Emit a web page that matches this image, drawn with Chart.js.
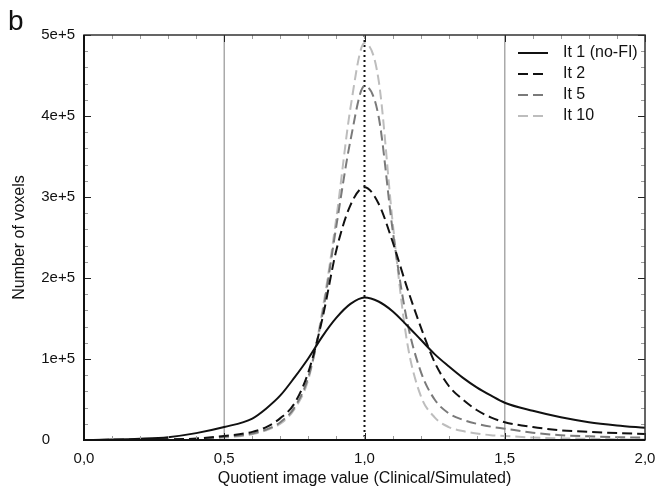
<!DOCTYPE html>
<html>
<head>
<meta charset="utf-8">
<script src="https://cdn.jsdelivr.net/npm/chart.js@4/dist/chart.umd.min.js"></script>
<style>
    body { margin: 0; background: #fff; }
    #wrap { width: 655px; height: 496px; }
</style>
</head>
<body>
<div id="wrap"><canvas id="quotient-chart"></canvas></div>
<script>
// values (x = quotient, y = number of voxels)
var quotients = [0, 0.1, 0.2, 0.3, 0.4, 0.5, 0.6, 0.65, 0.7, 0.75, 0.8, 0.85, 0.9, 0.95, 1.0,
                 1.05, 1.1, 1.15, 1.2, 1.25, 1.3, 1.35, 1.4, 1.45, 1.5, 1.6, 1.7, 1.8, 1.9, 2.0];

var it1 = [0, 500, 1500, 3500, 8500, 16000, 26500, 39000, 55000, 77000, 101000, 128000, 151000, 168000, 176000,
           171000, 159000, 142000, 124000, 106000, 91000, 77000, 65000, 55000, 46000, 36000, 28000, 22000, 18000, 15000];
var it2 = [0, 200, 400, 800, 1800, 5000, 10000, 16000, 27000, 45000, 84000, 150000, 235000, 290000, 312000,
           292000, 245000, 190000, 140000, 96000, 67000, 50000, 37000, 28000, 22000, 16000, 12000, 10000, 8500, 7500];
var it5 = [0, 100, 300, 600, 1300, 4000, 8000, 13000, 22000, 40000, 78000, 155000, 265000, 370000, 437000,
           400000, 260000, 150000, 85000, 50000, 33000, 25000, 20000, 16500, 14000, 9000, 6000, 4500, 3500, 3000];
var it10 = [0, 50, 150, 400, 900, 3000, 7000, 12000, 20000, 38000, 75000, 160000, 275000, 410000, 490000,
            445000, 270000, 125000, 55000, 28000, 16000, 11000, 8000, 6000, 5000, 3000, 2000, 1500, 1000, 500];

var seriesLabels = ['It 1 (no-FI)', 'It 2', 'It 5', 'It 10'];
var xTickStep = 0.5;
var yTickStep = 100000;
var panelLetter = 'b';

// vertical reference lines
var greyLines = [0.5, 1.5];
var dottedLine = 1.0;

var FONT = "'Liberation Sans', Arial, sans-serif";

window.onload = initialize;

function initialize() {
    renderChart();
}

function toPoints(values) {
    var pts = [];
    for (var i = 0; i < quotients.length; i++) {
        pts.push({x: quotients[i], y: values[i]});
    }
    return pts;
}

function makeDataset(label, values, color, dash) {
    return {
        label: label,
        data: toPoints(values),
        borderColor: color,
        borderWidth: 2,
        borderDash: dash,
        pointRadius: 0,
        fill: false,
        cubicInterpolationMode: 'monotone'
    };
}

var frameAndTicks = {
    id: 'frameAndTicks',
    beforeDatasetsDraw: function(chart) {
        var ctx = chart.ctx;
        var a = chart.chartArea;
        var xs = chart.scales.x;
        ctx.save();
        ctx.strokeStyle = '#aaaaaa';
        ctx.lineWidth = 1.5;
        greyLines.forEach(function(v) {
            var px = xs.getPixelForValue(v);
            ctx.beginPath();
            ctx.moveTo(px, a.top);
            ctx.lineTo(px, a.bottom);
            ctx.stroke();
        });
        ctx.strokeStyle = '#111';
        ctx.lineWidth = 2;
        ctx.setLineDash([2, 3]);
        var dx = xs.getPixelForValue(dottedLine);
        ctx.beginPath();
        ctx.moveTo(dx, a.top);
        ctx.lineTo(dx, a.bottom);
        ctx.stroke();
        ctx.restore();
    },
    afterDraw: function(chart) {
        var ctx = chart.ctx;
        var a = chart.chartArea;
        var xs = chart.scales.x;
        var ys = chart.scales.y;
        ctx.save();

        // inward ticks, minor then major
        function xTicks(step, len, color) {
            ctx.strokeStyle = color;
            ctx.lineWidth = 1;
            for (var v = xs.min; v <= xs.max + 1e-9; v += step) {
                var px = Math.round(xs.getPixelForValue(v)) + 0.5;
                ctx.beginPath();
                ctx.moveTo(px, a.bottom); ctx.lineTo(px, a.bottom - len);
                ctx.moveTo(px, a.top); ctx.lineTo(px, a.top + len);
                ctx.stroke();
            }
        }
        function yTicks(step, len, color) {
            ctx.strokeStyle = color;
            ctx.lineWidth = 1;
            for (var v = ys.min; v <= ys.max + 1e-6; v += step) {
                var py = Math.round(ys.getPixelForValue(v)) + 0.5;
                ctx.beginPath();
                ctx.moveTo(a.left, py); ctx.lineTo(a.left + len, py);
                ctx.moveTo(a.right, py); ctx.lineTo(a.right - len, py);
                ctx.stroke();
            }
        }
        xTicks(xTickStep / 5, 4, '#9a9a9a');
        yTicks(yTickStep / 5, 4, '#9a9a9a');
        xTicks(xTickStep, 7, '#222');
        yTicks(yTickStep, 7, '#222');

        // frame
        ctx.strokeStyle = '#333';
        ctx.lineWidth = 1.5;
        ctx.strokeRect(a.left, a.top, a.right - a.left, a.bottom - a.top);
        ctx.strokeStyle = '#111';
        ctx.lineWidth = 2;
        ctx.beginPath();
        ctx.moveTo(a.left, a.top);
        ctx.lineTo(a.left, a.bottom);
        ctx.lineTo(a.right, a.bottom);
        ctx.stroke();

        // legend
        ctx.font = '16px ' + FONT;
        ctx.textBaseline = 'middle';
        ctx.fillStyle = '#111';
        chart.data.datasets.forEach(function(ds, i) {
            var y = a.top + 18 + i * 21;
            ctx.strokeStyle = ds.borderColor;
            ctx.lineWidth = 2;
            ctx.setLineDash(ds.borderDash || []);
            ctx.beginPath();
            ctx.moveTo(a.right - 127, y);
            ctx.lineTo(a.right - 97, y);
            ctx.stroke();
            ctx.setLineDash([]);
            ctx.fillText(ds.label, a.right - 82, y);
        });

        // panel letter
        ctx.font = '28px ' + FONT;
        ctx.textBaseline = 'alphabetic';
        ctx.fillText(panelLetter, 8, 30);
        ctx.restore();
    }
};

function renderChart() {
    var ctx = document.getElementById('quotient-chart').getContext('2d');
    var chart = new Chart(ctx, {
        type: 'line',
        data: {
            datasets: [
                makeDataset(seriesLabels[0], it1, '#111111', []),
                makeDataset(seriesLabels[1], it2, '#111111', [10, 5]),
                makeDataset(seriesLabels[2], it5, '#7a7a7a', [10, 5]),
                makeDataset(seriesLabels[3], it10, '#bdbdbd', [10, 5])
            ]
        },
        options: {
            responsive: true,
            maintainAspectRatio: false,
            animation: false,
            layout: {padding: {top: 35, right: 10, left: 0, bottom: 0}},
            plugins: {
                legend: {display: false},
                tooltip: {enabled: false}
            },
            scales: {
                x: {
                    type: 'linear',
                    min: 0,
                    max: 2,
                    grid: {display: false, drawTicks: false},
                    border: {display: false},
                    ticks: {
                        stepSize: xTickStep,
                        padding: 10,
                        color: '#111',
                        font: {family: FONT, size: 15},
                        maxRotation: 0,
                        callback: function(v) { return v.toFixed(1).replace('.', ','); }
                    },
                    title: {
                        display: true,
                        text: 'Quotient image value (Clinical/Simulated)',
                        color: '#111',
                        font: {family: FONT, size: 16},
                        padding: {top: 0, bottom: 8}
                    },
                    afterFit: function(scale) {
                        scale.height = 56;
                        scale.paddingLeft = 0;
                        scale.paddingRight = 0;
                    }
                },
                y: {
                    min: 0,
                    max: 500000,
                    grid: {display: false, drawTicks: false},
                    border: {display: false},
                    ticks: {
                        stepSize: yTickStep,
                        padding: 9,
                        color: '#111',
                        font: {family: FONT, size: 15},
                        // the zero label sits further left in the original
                        callback: function(v) { return v === 0 ? '0      ' : (v / 100000) + 'e+5'; }
                    },
                    title: {
                        display: true,
                        text: 'Number of voxels',
                        color: '#111',
                        font: {family: FONT, size: 16},
                        padding: {top: 10, bottom: 0}
                    },
                    afterFit: function(scale) {
                        scale.width = 84;
                    }
                }
            }
        },
        plugins: [frameAndTicks]
    });
}
</script>
</body>
</html>
